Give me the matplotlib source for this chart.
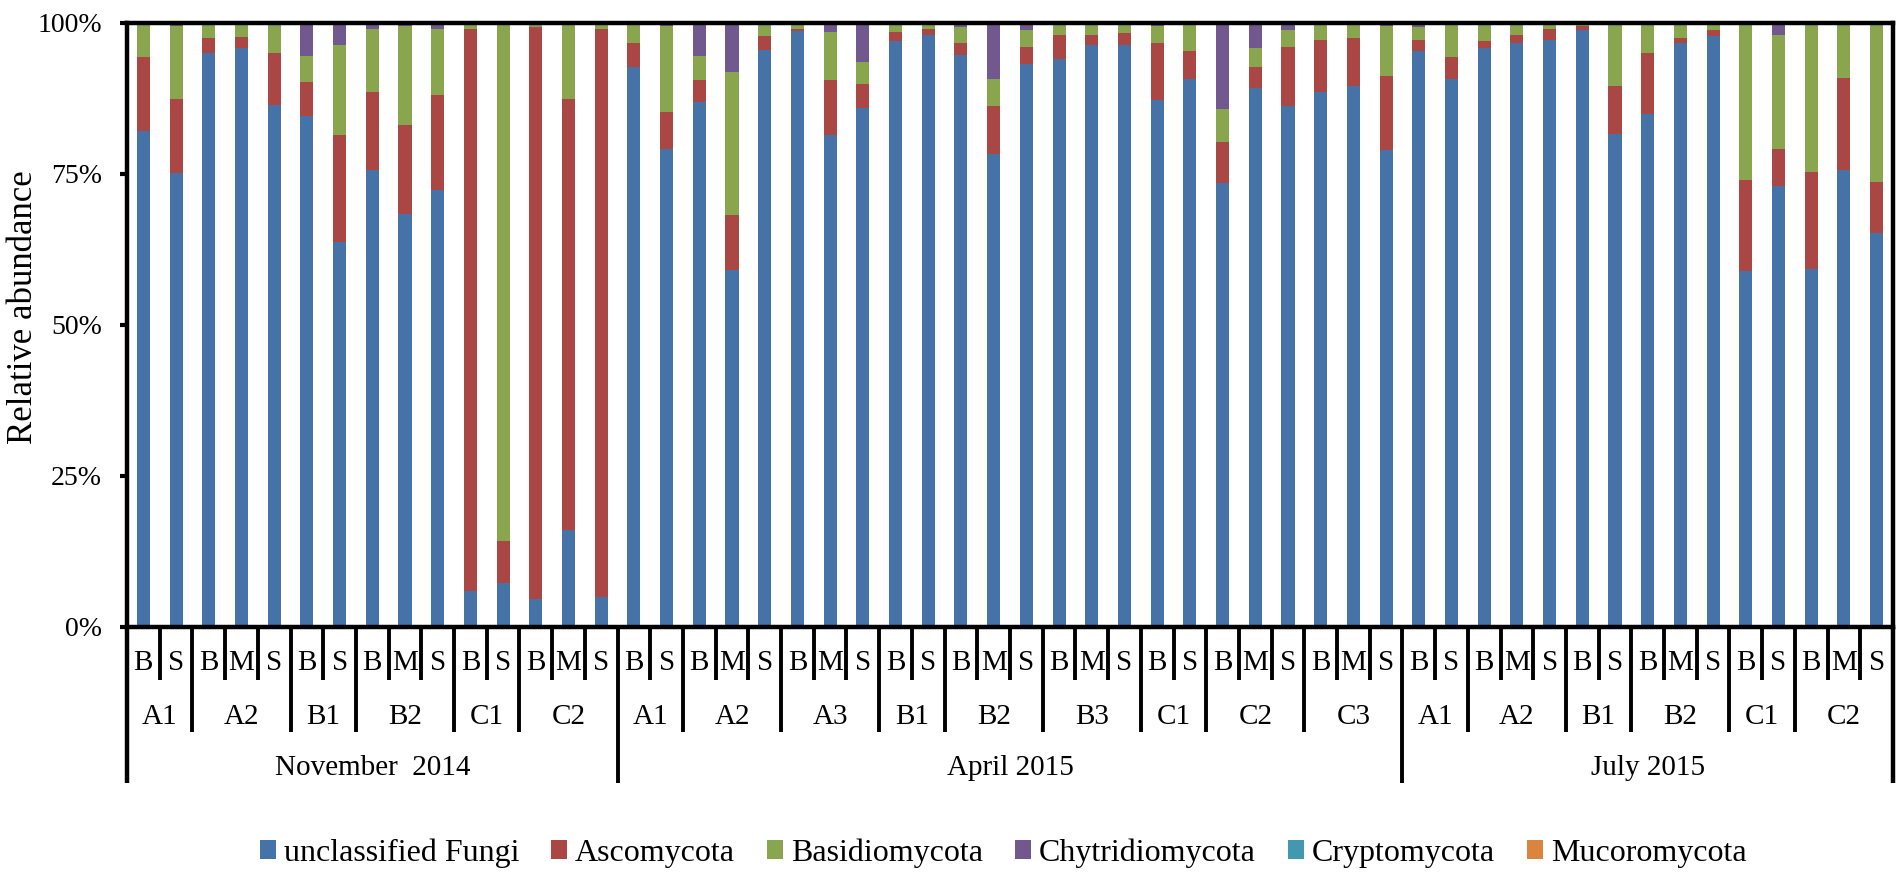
import numpy as np
import matplotlib
matplotlib.use('Agg')
from matplotlib import pyplot as plt

plt.rcParams['font.family'] = ['Liberation Serif', 'DejaVu Serif']

# sampling design
seasons = ['November  2014', 'April 2015', 'July 2015']
season_sites = [
    ['A1', 'A2', 'B1', 'B2', 'C1', 'C2'],
    ['A1', 'A2', 'A3', 'B1', 'B2', 'B3', 'C1', 'C2', 'C3'],
    ['A1', 'A2', 'B1', 'B2', 'C1', 'C2'],
]
season_depths = [
    ['BS', 'BMS', 'BS', 'BMS', 'BS', 'BMS'],
    ['BS', 'BMS', 'BMS', 'BS', 'BMS', 'BMS', 'BS', 'BMS', 'BMS'],
    ['BS', 'BMS', 'BS', 'BMS', 'BS', 'BMS'],
]

phyla = ['unclassified Fungi', 'Ascomycota', 'Basidiomycota',
         'Chytridiomycota', 'Cryptomycota', 'Mucoromycota']
colors = ['#4572A7', '#AA4643', '#89A54E', '#71588F', '#4198AF', '#DB843D']

# relative abundance (%) per sample
unclassified = [82.0, 75.0, 94.9, 95.7, 86.4, 84.6, 63.7, 75.5, 68.3, 72.2, 5.8, 7.2, 4.5, 16.0, 4.9,
                92.7, 79.0, 86.9, 59.0, 95.5, 98.6, 81.3, 85.9, 96.9, 98.0, 94.6, 78.2, 93.1, 93.9, 96.2,
                96.3, 87.2, 90.6, 73.5, 89.2, 86.1, 88.5, 89.5, 78.9,
                95.3, 90.6, 95.7, 96.6, 97.1, 98.7, 81.6, 84.8, 96.6, 97.8, 58.8, 73.0, 59.2, 75.5, 65.1]
ascomycota = [12.3, 12.3, 2.5, 1.9, 8.6, 5.6, 17.7, 13.0, 14.8, 15.8, 93.1, 7.0, 94.7, 71.3, 94.1,
              3.9, 6.1, 3.5, 9.1, 2.3, 0.4, 9.1, 4.0, 1.6, 1.0, 2.0, 8.0, 2.9, 4.1, 1.8,
              2.0, 9.4, 4.7, 6.7, 3.5, 9.8, 8.6, 7.9, 12.2,
              1.8, 3.7, 1.2, 1.3, 1.9, 0.7, 7.9, 10.2, 0.8, 0.9, 15.1, 6.1, 16.1, 15.3, 8.5]
basidiomycota = [5.5, 12.1, 2.4, 2.4, 4.8, 4.2, 14.8, 10.5, 16.3, 11.0, 0.9, 85.6, 0.6, 12.5, 1.0,
                 3.3, 14.3, 4.0, 23.7, 2.1, 0.8, 8.1, 3.6, 1.3, 0.7, 2.7, 4.4, 2.7, 1.7, 1.8,
                 1.4, 2.8, 4.4, 5.4, 3.0, 2.8, 2.6, 2.3, 8.3,
                 2.1, 5.7, 2.8, 1.8, 0.7, 0.4, 10.2, 4.6, 2.6, 1.0, 25.8, 18.9, 24.5, 8.9, 26.1]
chytridiomycota = [0.2, 0.6, 0.2, 0.0, 0.2, 5.4, 3.8, 1.0, 0.6, 1.0, 0.0, 0.2, 0.0, 0.2, 0.0,
                   0.0, 0.3, 5.4, 8.2, 0.0, 0.0, 1.5, 6.5, 0.0, 0.0, 0.7, 9.4, 1.3, 0.0, 0.2,
                   0.0, 0.6, 0.0, 14.4, 4.2, 1.3, 0.0, 0.0, 0.6,
                   0.8, 0.0, 0.0, 0.0, 0.0, 0.0, 0.3, 0.0, 0.0, 0.0, 0.3, 2.0, 0.2, 0.0, 0.0]
cryptomycota = [0.0] * 54
mucoromycota = [0.0, 0.0, 0.0, 0.0, 0.0, 0.2, 0.0, 0.0, 0.0, 0.0, 0.2, 0.0, 0.2, 0.0, 0.0,
                0.1, 0.3, 0.2, 0.0, 0.1, 0.2, 0.0, 0.0, 0.2, 0.3, 0.0, 0.0, 0.0, 0.3, 0.0,
                0.3, 0.0, 0.3, 0.0, 0.1, 0.0, 0.3, 0.3, 0.0,
                0.0, 0.0, 0.3, 0.3, 0.3, 0.2, 0.0, 0.4, 0.0, 0.3, 0.0, 0.0, 0.0, 0.3, 0.3]

data = np.array([unclassified, ascomycota, basidiomycota,
                 chytridiomycota, cryptomycota, mucoromycota])
data = data / data.sum(axis=0) * 100  # 100% stacked

n = data.shape[1]
x = np.arange(n)

fig = plt.figure(figsize=(19.04, 8.83), dpi=100)
ax = fig.add_axes([127 / 1904, 1 - 626.5 / 883, (1893 - 127) / 1904, 604 / 883])

bottom = np.zeros(n)
handles = []
for vals, name, col in zip(data, phyla, colors):
    h = ax.bar(x, vals, 0.4, bottom=bottom, color=col, label=name, linewidth=0)
    handles.append(h)
    bottom += vals

ax.set_xlim(-0.5, n - 0.5)
ax.set_ylim(0, 100)
ax.set_yticks([0, 25, 50, 75, 100])
ax.set_yticklabels(['0%', '25%', '50%', '75%', '100%'])
ax.tick_params(axis='y', direction='out', length=5, width=3, labelsize=20, pad=13)
ax.tick_params(axis='x', bottom=False, labelbottom=False)
for sp in ax.spines.values():
    sp.set_linewidth(3.2)

fig.text(23.5 / 1904, 1 - 307 / 883, 'Relative abundance', rotation=90,
         ha='center', va='center', fontsize=25)

# multi-level category axis (Excel style)
ah = 604.0
row_y = [-36.5 / ah, -90.5 / ah, -141.5 / ah]
row_end = [-53.5 / ah, -105.5 / ah, -156.5 / ah]
trans = ax.get_xaxis_transform()
lw = 2.8

level = {}  # boundary position -> depth level
pos = 0
for s, (season, sites, depths) in enumerate(zip(seasons, season_sites, season_depths)):
    s_start = pos
    for site, dep in zip(sites, depths):
        g_start = pos
        for d in dep:
            ax.text(pos, row_y[0], d, transform=trans, ha='center', va='center',
                    fontsize=21, clip_on=False)
            if pos != g_start:
                level[pos - 0.5] = 0
            pos += 1
        ax.text((g_start + pos - 1) / 2, row_y[1], site, transform=trans,
                ha='center', va='center', fontsize=21, clip_on=False)
        if g_start != s_start:
            level[g_start - 0.5] = 1
    ax.text((s_start + pos - 1) / 2, row_y[2], season, transform=trans,
            ha='center', va='center', fontsize=21, clip_on=False)
    level[s_start - 0.5] = 2
level[pos - 0.5] = 2

for bx, lv in level.items():
    ax.plot([bx, bx], [0, row_end[lv]], transform=trans, color='black',
            linewidth=lw if 0 < bx < n - 1 else 3.2, clip_on=False,
            solid_capstyle='butt')

fig.legend(handles, phyla, loc='center', bbox_to_anchor=(1003 / 1904, 1 - 853 / 883),
           ncol=6, frameon=False, fontsize=23, handlelength=0.5, handleheight=0.5,
           handletextpad=0.25, columnspacing=1.0)

fig.savefig('out.png', dpi=100)
